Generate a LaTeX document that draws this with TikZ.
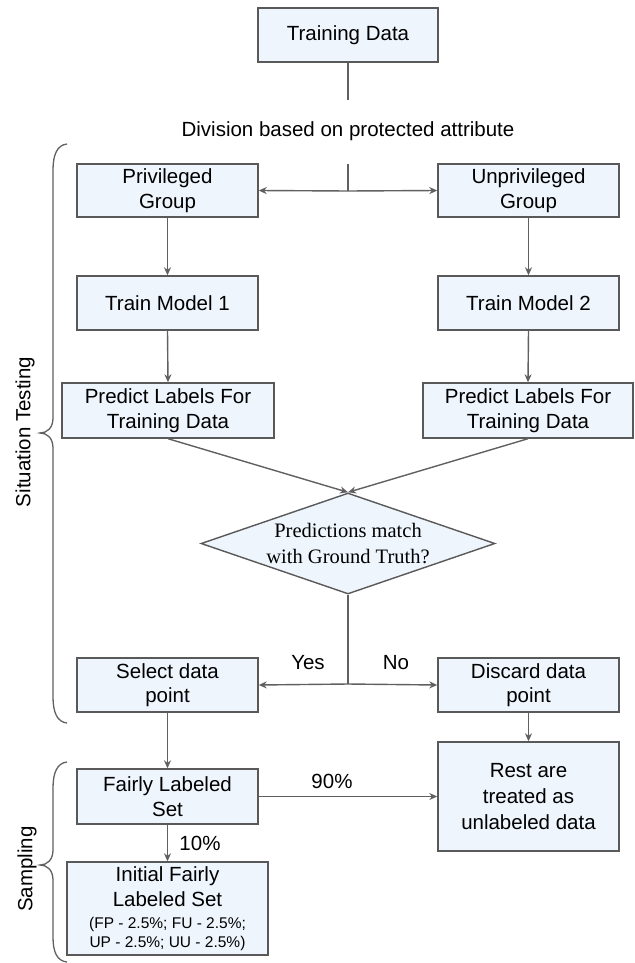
\documentclass[tikz,border=0pt]{standalone}
\usepackage{fontspec}
\setmainfont{Liberation Sans}
\newfontfamily\timesf{Liberation Serif}
\usetikzlibrary{arrows.meta,shapes.geometric}
\definecolor{boxfill}{RGB}{238,245,253}
\definecolor{boxdraw}{RGB}{89,89,89}
\definecolor{linec}{RGB}{96,96,96}
\begin{document}
\begin{tikzpicture}[x=1pt,y=-1pt,
  box/.style={draw=boxdraw, fill=boxfill, line width=1.4pt, align=center, inner sep=0pt,
    font=\fontsize{20.5}{24.6}\selectfont},
  conn/.style={draw=linec, line width=1.4pt},
  arr/.style={conn, -{Stealth[length=8pt,width=7pt,inset=2.5pt]}},
  lbl/.style={font=\fontsize{20.5}{24.6}\selectfont, inner sep=0pt},
  bracepath/.style={draw=linec, line width=1.3pt}]
\useasboundingbox (0,0) rectangle (634,963);

% nodes
\node[box, minimum width=180pt, minimum height=54pt] (train) at (348,35) {Training Data};
\node[lbl] (div) at (348,131) {Division based on protected attribute};
\node[box, minimum width=181pt, minimum height=53pt] (priv) at (167.5,190.5) {Privileged\\Group};
\node[box, minimum width=181pt, minimum height=53pt] (unpriv) at (528.5,190.5) {Unprivileged\\Group};
\node[box, minimum width=181pt, minimum height=54pt] (tm1) at (167.5,303) {Train Model 1};
\node[box, minimum width=181pt, minimum height=54pt] (tm2) at (528.5,303) {Train Model 2};
\node[box, minimum width=212pt, minimum height=55pt] (pl1) at (168,410.5) {Predict Labels For\\Training Data};
\node[box, minimum width=210pt, minimum height=55pt] (pl2) at (528,410.5) {Predict Labels For\\Training Data};
\node[box, diamond, aspect=2.91, minimum width=294pt, minimum height=101pt,
  font=\timesf\fontsize{20.5}{26}\selectfont] (dia) at (348,543.5) {Predictions match\\with Ground Truth?};
\node[box, minimum width=181pt, minimum height=54pt] (sel) at (167.5,685) {Select data\\point};
\node[box, minimum width=181pt, minimum height=54pt] (dis) at (528.5,685) {Discard data\\point};
\node[lbl] (yes) at (308,663) {Yes};
\node[lbl] (no) at (396,663) {No};
\node[box, minimum width=181pt, minimum height=55pt] (fair) at (167.5,796.5) {Fairly Labeled\\Set};
\node[box, minimum width=181pt, minimum height=109pt, font=\fontsize{20.5}{26}\selectfont] (rest) at (528.5,796.5) {Rest are\\treated as\\unlabeled data};
\node[lbl] (p90) at (332,781) {90\%};
\node[lbl] (p10) at (200,843) {10\%};
\node[box, minimum width=201pt, minimum height=93pt] (init) at (167.5,908.5)
  {Initial Fairly\\Labeled Set\\[-2.5pt]{\fontsize{15.5}{18}\selectfont (FP - 2.5\%; FU - 2.5\%;}\\[-5.5pt]{\fontsize{15.5}{18}\selectfont UP - 2.5\%; UU - 2.5\%)}};
\node[lbl, rotate=90] (st) at (25,432) {Situation Testing};
\node[lbl, rotate=90] (samp) at (27,869) {Sampling};

% coordinates
\coordinate (t1) at (348,100);
\coordinate (split) at (348,164);
\coordinate (splitb) at (348,191);
\coordinate (yn) at (348,684);

% connectors
\draw[conn] (train.south) -- (t1);
\draw[conn] (split) -- (splitb);
\draw[arr] (splitb) -- (priv.east);
\draw[arr] (splitb) -- (unpriv.west);
\draw[arr] (priv.south) -- (tm1.north);
\draw[arr] (unpriv.south) -- (tm2.north);
\draw[arr] (tm1.south) -- (pl1.north);
\draw[arr] (tm2.south) -- (pl2.north);
\draw[arr] (pl1.south) -- (dia.north);
\draw[arr] (pl2.south) -- (dia.north);
\draw[conn] (dia.south) -- (yn);
\draw[arr] (yn) -- (sel.east);
\draw[arr] (yn) -- (dis.west);
\draw[arr] (sel.south) -- (fair.north);
\draw[arr] (dis.south) -- (rest.north);
\draw[arr] (fair.east) -- (rest.west);
\draw[arr] (fair.south) -- (init.north);

% braces
\draw[bracepath] (67,144) .. controls (57,145) and (53,155) .. (53,170) -- (53,418)
  .. controls (53,428) and (47,433) .. (40,433) .. controls (47,433) and (53,438) .. (53,448)
  -- (53,697) .. controls (53,712) and (57,722) .. (67,723);
\draw[bracepath] (67,762) .. controls (57,763) and (53,773) .. (53,788) -- (53,850)
  .. controls (53,860) and (47,865) .. (40,865) .. controls (47,865) and (53,870) .. (53,880)
  -- (53,937) .. controls (53,952) and (57,961) .. (67,962);
\end{tikzpicture}
\end{document}
